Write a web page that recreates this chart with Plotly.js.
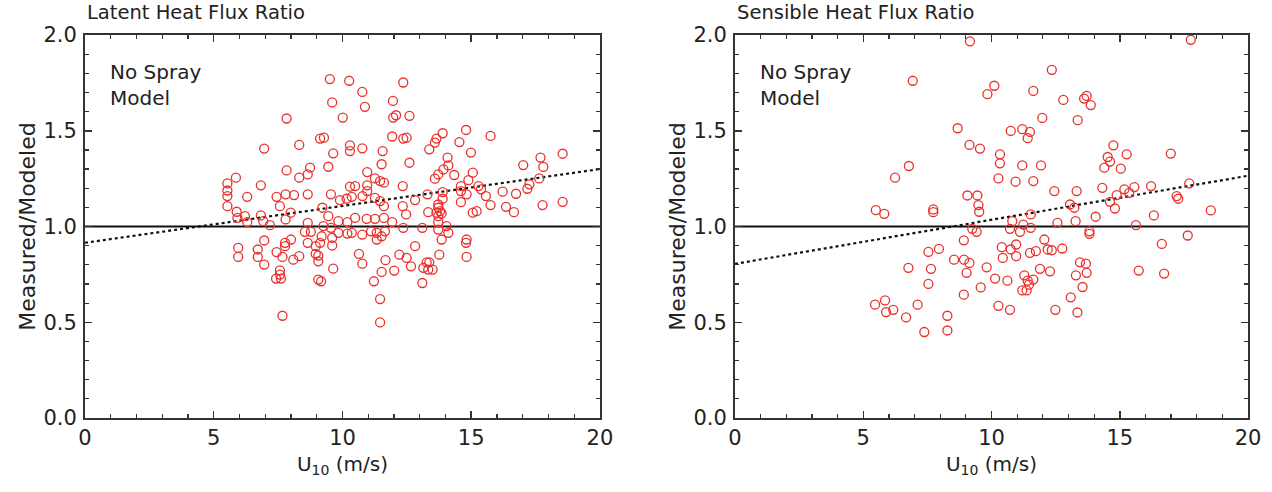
<!DOCTYPE html>
<html>
<head>
<meta charset="utf-8">
<script src="https://cdn.plot.ly/plotly-3.0.1.min.js"></script>
<style>html,body{margin:0;padding:0;background:#fff;}#chart{width:1272px;height:492px;}</style>
</head>
<body>
<div id="chart"></div>
<script>
// ---- Data ----
const panelTitles = ["Latent Heat Flux Ratio", "Sensible Heat Flux Ratio"];
const xTicks = [0, 5, 10, 15, 20];
const yTicks = [0.0, 0.5, 1.0, 1.5, 2.0];

const latentU10 = [
7.83,6.96,8.32,7.83,8.32,5.53,5.86,5.53,5.53,6.83,6.30,7.44,7.79,8.12,7.57,5.53,5.89,5.92,6.21,6.30,6.83,6.92,7.18,7.99,7.79,8.54,8.77,6.96,8.00,7.77,7.77,5.95,5.95,6.71,6.71,7.44,7.67,6.96,8.09,8.32,7.57,7.57,7.42,7.61,7.67,
9.51,10.26,10.77,9.60,10.87,10.01,11.96,11.97,12.08,11.93,9.13,9.28,10.29,10.29,10.77,9.64,11.56,8.74,9.45,11.52,10.96,11.26,11.46,11.61,8.65,10.29,10.49,10.96,10.96,8.65,9.55,9.90,10.16,10.36,10.78,11.26,11.46,11.61,9.22,9.45,9.84,10.19,10.49,10.94,11.26,11.61,8.65,11.93,9.26,9.55,9.84,10.19,10.36,10.77,11.11,11.33,11.65,11.52,11.33,8.65,9.19,9.13,9.60,9.60,8.96,8.96,9.06,9.06,10.64,10.77,11.67,12.01,11.52,9.64,9.06,9.17,11.22,11.46,11.46,
12.36,12.60,12.36,12.49,13.89,13.65,13.59,14.80,14.54,13.37,14.99,12.60,14.08,14.11,13.92,13.72,13.59,14.34,15.06,14.89,12.34,14.60,14.60,14.82,15.28,15.38,13.89,13.89,13.30,12.82,14.60,13.72,13.72,13.79,13.65,13.72,13.85,13.72,12.34,12.47,13.33,15.06,15.21,12.36,13.10,13.72,14.04,14.11,13.85,14.82,14.80,12.82,13.76,14.82,12.21,12.49,12.66,13.27,13.37,13.14,13.50,13.33,13.10,
15.75,17.02,17.69,17.80,18.55,17.64,17.26,17.18,16.22,16.74,15.75,16.35,16.66,17.77,18.55,15.57
];
const latentRatio = [
1.564,1.407,1.426,1.293,1.255,1.225,1.255,1.188,1.159,1.215,1.155,1.155,1.168,1.164,1.106,1.106,1.077,1.045,1.054,1.023,1.058,1.028,1.007,1.072,1.037,0.972,0.972,0.927,0.932,0.915,0.897,0.888,0.841,0.880,0.841,0.866,0.841,0.801,0.827,0.845,0.771,0.749,0.728,0.728,0.534,
1.770,1.761,1.703,1.648,1.625,1.569,1.656,1.569,1.581,1.470,1.459,1.464,1.424,1.394,1.408,1.382,1.394,1.307,1.312,1.325,1.284,1.251,1.237,1.229,1.272,1.208,1.211,1.215,1.185,1.168,1.168,1.138,1.145,1.155,1.159,1.150,1.133,1.106,1.098,1.054,1.028,1.023,1.045,1.040,1.040,1.045,1.019,1.023,1.002,0.993,0.967,0.963,0.967,0.958,0.975,0.967,0.975,0.949,0.932,0.915,0.949,0.915,0.941,0.901,0.897,0.857,0.848,0.818,0.857,0.806,0.824,0.770,0.763,0.780,0.723,0.714,0.714,0.621,0.499,
1.752,1.578,1.459,1.464,1.487,1.459,1.438,1.504,1.441,1.403,1.386,1.333,1.360,1.319,1.298,1.272,1.250,1.269,1.281,1.242,1.211,1.211,1.185,1.168,1.211,1.194,1.180,1.145,1.168,1.138,1.127,1.115,1.098,1.080,1.072,1.054,1.068,1.023,1.106,1.063,1.075,1.072,1.080,0.993,0.993,0.984,1.002,0.967,0.932,0.932,0.915,0.897,0.853,0.841,0.853,0.836,0.792,0.813,0.813,0.784,0.775,0.775,0.705,
1.473,1.321,1.360,1.311,1.380,1.251,1.220,1.197,1.182,1.171,1.112,1.103,1.075,1.112,1.129,1.159
];

const sensibleU10 = [
9.16,6.93,8.68,9.14,9.55,6.78,6.24,9.06,9.45,9.49,9.52,5.49,5.82,7.73,7.73,
9.25,9.42,8.92,7.54,7.95,8.54,8.93,9.14,6.76,7.64,9.81,9.03,10.14,7.54,9.58,8.92,5.46,5.85,5.89,6.17,7.12,6.67,8.28,7.38,8.28,
17.77,12.35,10.11,9.84,11.63,12.80,13.61,13.71,13.87,11.98,13.36,10.75,11.20,11.50,11.41,10.33,10.33,10.27,11.20,11.93,10.94,11.63,14.75,14.53,14.62,15.27,14.40,15.04,16.99,12.45,13.32,14.32,15.18,15.37,15.57,16.22,17.71,17.22,17.28,14.88,14.62,14.81,13.06,13.23,18.55,10.81,11.53,12.57,13.28,14.06,16.33,
11.24,15.63,10.72,11.11,11.53,13.82,13.82,17.65,16.64,12.06,10.96,10.75,10.40,10.96,10.44,11.50,11.73,12.19,12.35,12.76,13.45,13.68,13.71,13.29,11.89,12.28,11.28,11.63,11.41,11.46,11.20,11.37,10.62,13.55,13.09,10.27,10.72,12.49,13.35,15.74,16.73
];
const sensibleRatio = [
1.967,1.761,1.513,1.426,1.407,1.316,1.255,1.162,1.162,1.112,1.077,1.085,1.066,1.089,1.075,
0.988,0.972,0.928,0.867,0.883,0.827,0.827,0.810,0.784,0.779,0.787,0.758,0.728,0.700,0.682,0.644,0.592,0.614,0.553,0.565,0.592,0.525,0.534,0.449,0.457,
1.975,1.818,1.735,1.691,1.708,1.661,1.668,1.682,1.634,1.567,1.555,1.499,1.508,1.494,1.461,1.377,1.330,1.251,1.319,1.319,1.234,1.237,1.424,1.363,1.339,1.377,1.307,1.302,1.381,1.185,1.185,1.202,1.194,1.176,1.206,1.211,1.225,1.159,1.145,1.164,1.129,1.094,1.115,1.098,1.084,1.028,1.063,1.019,1.028,1.051,1.058,
1.010,1.007,0.988,0.972,0.993,0.975,0.962,0.953,0.909,0.932,0.906,0.880,0.892,0.845,0.836,0.862,0.871,0.880,0.876,0.885,0.813,0.806,0.758,0.745,0.779,0.766,0.745,0.723,0.717,0.696,0.666,0.666,0.717,0.684,0.630,0.586,0.565,0.565,0.551,0.770,0.754
];

// reference (ratio = 1) and fitted trend lines
const refX = [0, 20];
const refY = [1, 1];
const latentFitX = [0, 20];
const latentFitY = [0.915, 1.30];
const sensibleFitX = [0, 20];
const sensibleFitY = [0.805, 1.265];

// ---- Styles ----
const red = 'rgb(232,48,44)';
const fontFam = '"DejaVu Sans", "Liberation Sans", Arial, sans-serif';
const markerStyle = {symbol: 'circle-open', size: 9, color: red, line: {width: 1.3, color: red}};

const traces = [
  {x: refX, y: refY, xaxis: 'x', yaxis: 'y', mode: 'lines', line: {color: '#111', width: 1.8}, hoverinfo: 'skip'},
  {x: latentFitX, y: latentFitY, xaxis: 'x', yaxis: 'y', mode: 'lines', line: {color: '#111', width: 2.2, dash: 'dot'}, hoverinfo: 'skip'},
  {x: latentU10, y: latentRatio, xaxis: 'x', yaxis: 'y', mode: 'markers', marker: markerStyle},
  {x: refX, y: refY, xaxis: 'x2', yaxis: 'y2', mode: 'lines', line: {color: '#111', width: 1.8}, hoverinfo: 'skip'},
  {x: sensibleFitX, y: sensibleFitY, xaxis: 'x2', yaxis: 'y2', mode: 'lines', line: {color: '#111', width: 2.2, dash: 'dot'}, hoverinfo: 'skip'},
  {x: sensibleU10, y: sensibleRatio, xaxis: 'x2', yaxis: 'y2', mode: 'markers', marker: markerStyle}
];

function xAxis(domain, anchor) {
  return {
    domain: domain, anchor: anchor, range: [0, 20],
    tickmode: 'array', tickvals: xTicks, ticktext: xTicks.map(String),
    ticks: 'inside', ticklen: 7, tickwidth: 1.5, tickcolor: '#333',
    minor: {ticks: 'inside', dtick: 1, ticklen: 4, tickwidth: 1.2, tickcolor: '#333'},
    showline: true, linecolor: '#333', linewidth: 2, mirror: 'ticks',
    showgrid: false, zeroline: false,
    tickfont: {family: fontFam, size: 21, color: '#222'},
    title: {text: 'U<sub>10</sub> (m/s)', font: {family: fontFam, size: 20, color: '#222'}, standoff: 8}
  };
}
function yAxis(domain, anchor) {
  return {
    domain: domain, anchor: anchor, range: [0, 2],
    tickmode: 'array', tickvals: yTicks, ticktext: yTicks.map(v => v.toFixed(1)),
    ticks: 'inside', ticklen: 7, tickwidth: 1.5, tickcolor: '#333',
    minor: {ticks: 'inside', dtick: 0.1, ticklen: 4, tickwidth: 1.2, tickcolor: '#333'},
    showline: true, linecolor: '#333', linewidth: 2, mirror: 'ticks',
    showgrid: false, zeroline: false,
    ticklabelstandoff: 2,
    tickfont: {family: fontFam, size: 21, color: '#222'},
    title: {text: 'Measured/Modeled', font: {family: fontFam, size: 22, color: '#222'}, standoff: 2}
  };
}

const annFont = {family: fontFam, size: 20, color: '#222'};
const layout = {
  width: 1272, height: 492,
  margin: {l: 85, r: 24, t: 35, b: 74},
  paper_bgcolor: '#fff', plot_bgcolor: '#fff',
  showlegend: false,
  xaxis: xAxis([0, 0.4428], 'y'),
  yaxis: yAxis([0, 1], 'x'),
  xaxis2: xAxis([0.5589, 1], 'y2'),
  yaxis2: yAxis([0, 1], 'x2'),
  annotations: [
    {text: panelTitles[0], xref: 'x domain', yref: 'y domain', x: 0, y: 1, xanchor: 'left', yanchor: 'bottom', yshift: 9, showarrow: false, font: {family: fontFam, size: 19.5, color: '#222'}},
    {text: panelTitles[1], xref: 'x2 domain', yref: 'y2 domain', x: 0, y: 1, xanchor: 'left', yanchor: 'bottom', yshift: 9, showarrow: false, font: {family: fontFam, size: 19.5, color: '#222'}},
    {text: 'No Spray<br>Model', xref: 'x domain', yref: 'y domain', x: 0.045, y: 0.87, xanchor: 'left', yanchor: 'middle', align: 'left', showarrow: false, font: annFont},
    {text: 'No Spray<br>Model', xref: 'x2 domain', yref: 'y2 domain', x: 0.045, y: 0.87, xanchor: 'left', yanchor: 'middle', align: 'left', showarrow: false, font: annFont}
  ]
};

Plotly.newPlot('chart', traces, layout, {staticPlot: true, displayModeBar: false});
</script>
</body>
</html>
